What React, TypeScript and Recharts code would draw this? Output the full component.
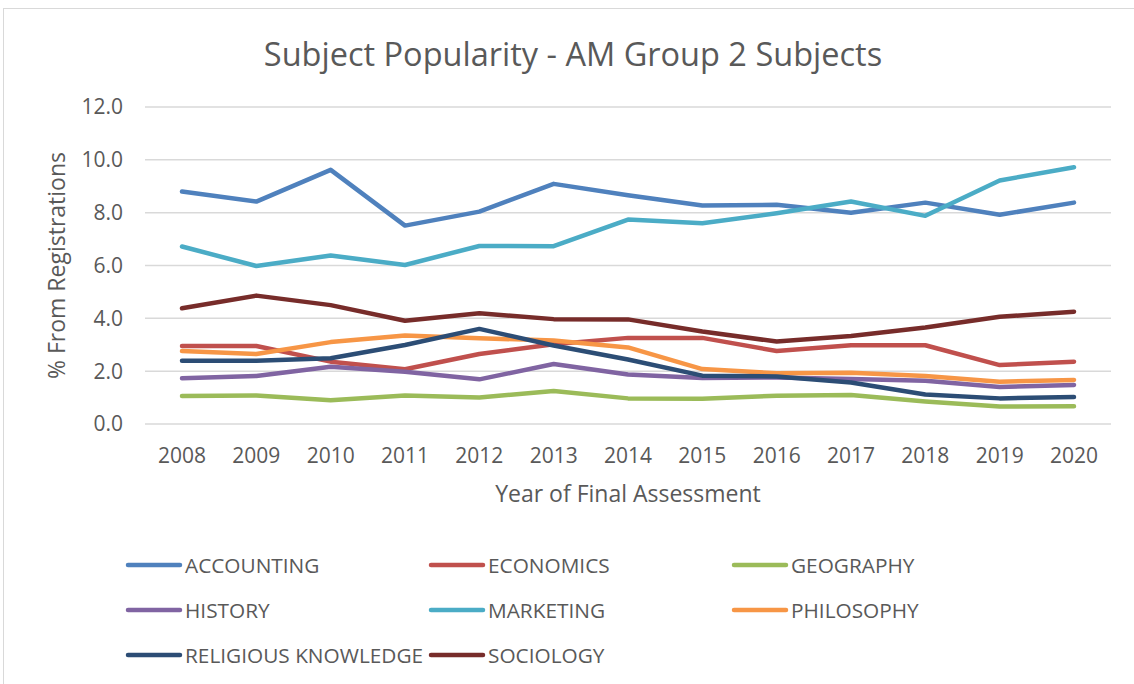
import { LineChart, Line, XAxis, YAxis, CartesianGrid, Label } from "recharts";

// Year of final assessment
const years = ["2008", "2009", "2010", "2011", "2012", "2013", "2014", "2015", "2016", "2017", "2018", "2019", "2020"];

// % from registrations
const accounting = [8.8, 8.42, 9.62, 7.51, 8.04, 9.09, 8.66, 8.27, 8.3, 8.0, 8.38, 7.92, 8.38];
const economics = [2.95, 2.95, 2.36, 2.07, 2.65, 3.02, 3.26, 3.26, 2.76, 2.98, 2.98, 2.23, 2.36];
const geography = [1.06, 1.08, 0.9, 1.08, 1.0, 1.25, 0.97, 0.96, 1.07, 1.1, 0.85, 0.66, 0.67];
const history = [1.73, 1.82, 2.17, 1.98, 1.69, 2.27, 1.87, 1.74, 1.76, 1.7, 1.64, 1.4, 1.48];
const marketing = [6.72, 5.98, 6.38, 6.02, 6.74, 6.73, 7.74, 7.6, 7.98, 8.42, 7.88, 9.22, 9.72];
const philosophy = [2.76, 2.65, 3.1, 3.35, 3.25, 3.16, 2.9, 2.08, 1.92, 1.94, 1.82, 1.6, 1.67];
const religious = [2.39, 2.39, 2.49, 2.99, 3.6, 2.97, 2.44, 1.83, 1.8, 1.57, 1.12, 0.97, 1.02];
const sociology = [4.38, 4.86, 4.5, 3.91, 4.19, 3.97, 3.96, 3.5, 3.12, 3.33, 3.65, 4.06, 4.25];

const yTicks = [0, 2, 4, 6, 8, 10, 12];

const series = [
  { key: "accounting", name: "ACCOUNTING", values: accounting, color: "#4F81BD" },
  { key: "economics", name: "ECONOMICS", values: economics, color: "#C0504D" },
  { key: "geography", name: "GEOGRAPHY", values: geography, color: "#9BBB59" },
  { key: "history", name: "HISTORY", values: history, color: "#8064A2" },
  { key: "marketing", name: "MARKETING", values: marketing, color: "#4BACC6" },
  { key: "philosophy", name: "PHILOSOPHY", values: philosophy, color: "#F79646" },
  { key: "religious", name: "RELIGIOUS KNOWLEDGE", values: religious, color: "#2C4D75" },
  { key: "sociology", name: "SOCIOLOGY", values: sociology, color: "#772C2A" },
];

const data = years.map((year, i) => {
  const row: Record<string, string | number> = { year };
  series.forEach((s) => {
    row[s.key] = s.values[i];
  });
  return row;
});

const FONT = "'Open Sans', 'Noto Sans', sans-serif";
const TEXT = "#595959";

export default function App() {
  return (
    <div style={{ position: "absolute", left: 0, top: 0, width: 1134, height: 684, background: "#fff", fontFamily: FONT, overflow: "hidden" }}>
      {/* chart frame */}
      <div style={{ position: "absolute", left: 3, top: 8, width: 1140, height: 690, border: "1px solid #d9d9d9" }} />

      <div
        style={{
          position: "absolute",
          left: 573,
          top: 53,
          transform: "translate(-50%, -50%)",
          fontSize: 32.5,
          color: TEXT,
          whiteSpace: "nowrap",
        }}
      >
        Subject Popularity - AM Group 2 Subjects
      </div>

      <div style={{ position: "absolute", left: 0, top: 0 }}>
        <LineChart width={1134} height={684} data={data} margin={{ top: 107, right: 23, left: 45, bottom: 180 }}>
          <CartesianGrid vertical={false} stroke="#d9d9d9" strokeWidth={1.5} />
          <XAxis
            dataKey="year"
            axisLine={false}
            tickLine={false}
            tickSize={0}
            tickMargin={24}
            height={80}
            padding={{ left: 37, right: 37 }}
            tick={{ fill: TEXT, fontSize: 21, fontFamily: FONT }}
            interval={0}
          >
            <Label value="Year of Final Assessment" position="insideBottom" offset={2} fill={TEXT} fontSize={23} fontFamily={FONT} />
          </XAxis>
          <YAxis
            domain={[0, 12]}
            ticks={yTicks}
            tickFormatter={(v: number) => v.toFixed(1)}
            axisLine={false}
            tickLine={false}
            tickSize={0}
            tickMargin={22}
            width={100}
            tick={{ fill: TEXT, fontSize: 21, fontFamily: FONT }}
          >
            <Label
              value="% From Registrations"
              angle={-90}
              position="insideLeft"
              offset={12}
              fill={TEXT}
              fontSize={23}
              fontFamily={FONT}
              style={{ textAnchor: "middle" }}
            />
          </YAxis>
          {series.map((s) => (
            <Line
              key={s.key}
              type="linear"
              dataKey={s.key}
              name={s.name}
              stroke={s.color}
              strokeWidth={4.5}
              strokeLinecap="round"
              strokeLinejoin="round"
              dot={false}
              activeDot={false}
              isAnimationActive={false}
            />
          ))}
        </LineChart>
      </div>

      {/* legend, three columns */}
      {series.map((s, i) => {
        const col = i % 3;
        const row = Math.floor(i / 3);
        return (
          <div
            key={s.key}
            style={{
              position: "absolute",
              left: 125 + col * 303,
              top: 565 + row * 45,
              transform: "translateY(-50%)",
              display: "flex",
              alignItems: "center",
              fontSize: 20.8,
              color: TEXT,
              whiteSpace: "nowrap",
            }}
          >
            <svg width={58} height={10}>
              <line x1={3} y1={5} x2={55} y2={5} stroke={s.color} strokeWidth={4.5} strokeLinecap="round" />
            </svg>
            <span style={{ marginLeft: 2 }}>{s.name}</span>
          </div>
        );
      })}
    </div>
  );
}
